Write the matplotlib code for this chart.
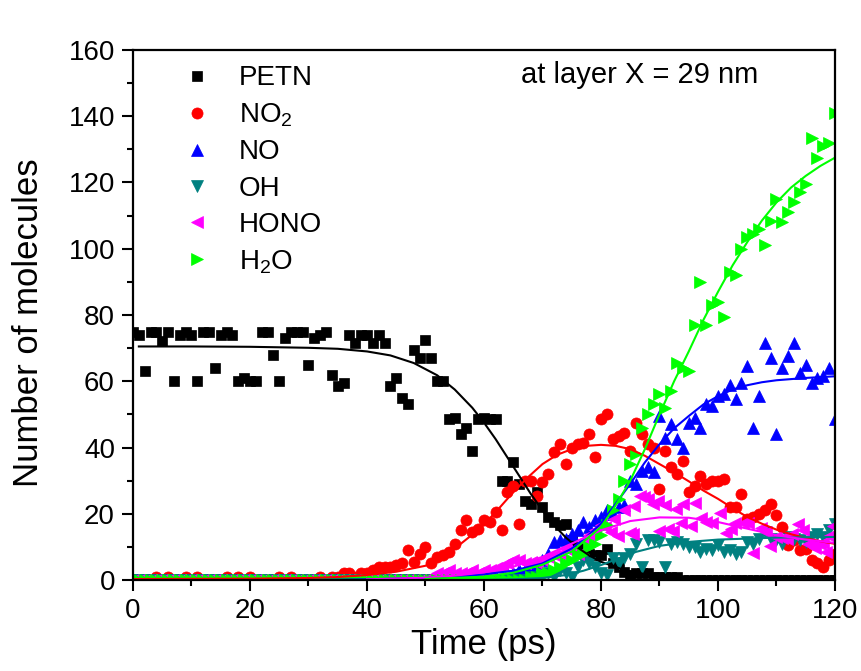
import matplotlib
matplotlib.use('Agg')
import matplotlib.pyplot as plt
from matplotlib.ticker import MultipleLocator

plt.rcParams['font.family'] = ['Liberation Sans', 'DejaVu Sans']
plt.rcParams['mathtext.default'] = 'regular'

# ---------------- data ----------------
petn_t = list(range(0, 121))
petn_v = [75, 74, 63, 75, 75, 72, 75, 60, 74, 75,
          74, 60, 75, 75, 64, 74, 75, 74, 60, 61,
          60, 60, 75, 75, 68, 60, 73, 75, 75, 75,
          65, 73, 74, 75, 62, 58.5, 59.5, 74, 71.5, 74,
          74, 71.5, 74, 71.5, 58.5, 61, 55, 53, 69.5, 67,
          72.5, 67, 60, 60, 48.5, 49, 44, 46, 39, 48.5,
          49, 48.5, 48.5, 30, 30, 35.5, 29, 24, 23, 26.5,
          22, 19, 17.5, 16.5, 17, 12, 9.5, 10, 8, 7.5,
          7.5, 9.5, 5, 4, 2.5, 1.5, 2, 2, 2, 1,
          1, 1, 1, 1, 0, 0, 0, 0, 0, 0,
          0, 0, 0, 0, 0, 0, 0, 0, 0, 0,
          0, 0, 0, 0, 0, 0, 0, 0, 0, 0, 0]

no2_t = list(range(0, 121))
no2_v = [0, 0, 0, 0, 1, 0, 1, 0, 0, 1,
         0, 1, 0, 0, 0, 0, 1, 0, 1, 0,
         1, 0, 0, 0, 0, 1, 0, 1, 0, 0,
         0, 0, 1, 0, 1, 1, 2, 2, 1, 2,
         2, 3, 4, 4, 4, 4.5, 5, 9, 5.5, 8,
         10, 5, 7, 7.5, 8.5, 11, 15, 18, 14.5, 15.5,
         18, 17.5, 20.5, 15, 26.5, 28.5, 17, 30, 30, 25.5,
         29.5, 32, 38.5, 41, 35, 40, 41, 41.5, 44, 37,
         48.5, 50, 42.5, 43.5, 44.5, 39, 47.5, 44, 41, 40,
         27.5, 39, 34, 32, 36, 26.5, 28.5, 31.5, 29, 30,
         30, 30.5, 22, 22, 26, 18.5, 19, 20, 21, 23,
         19.5, 16, 10.5, 12, 9, 9.5, 6, 5, 4, 6, 8]

no_t = list(range(0, 121))
no_v = [0] * 60 + [1, 0, 1, 1, 2, 2, 3, 3, 4, 5,
                   6, 8, 11.5, 12, 12.5, 14, 15, 17.5, 16, 18,
                   19, 21, 20, 22, 22.5, 30, 29, 33, 34, 32.5,
                   49.5, 43, 47, 42.5, 40, 47.5, 49, 46, 53, 52.5,
                   55.5, 56, 59, 54.5, 59.5, 64.5, 46, 55.5, 71.5, 67,
                   44, 64, 67.5, 71.5, 62.5, 65, 59.5, 61, 61.5, 64, 48.5]

oh_t = list(range(0, 121))
oh_v = [0] * 68 + [1, 0, 1, 2, 1, 3, 2, 1, 4, 6,
                   5, 4, 2, 1.5, 6.5, 5, 6.5, 8, 11, 4,
                   12, 12, 11.5, 4, 11, 11.5, 11, 10, 10, 8.5,
                   9.5, 9, 10.5, 8.5, 9, 8, 8.5, 11.5, 11, 12.5,
                   14.5, 12.5, 12, 11, 13, 12.5, 12, 11.5, 13, 14,
                   13, 15, 17]

hono_t = list(range(0, 81)) + [80.6, 81.7, 82.3, 82.9, 84, 84.9, 85.4, 85.7, 86.6, 87.3,
                               88, 88.9, 89.7, 90, 90.9, 91.4, 92.3, 92.9, 93.7, 94.1,
                               95.4, 96, 97.1, 98, 98.9, 100.3, 101.4, 102.2, 102.9, 104.3,
                               105.1, 106, 107.4, 108.2, 108.9, 110, 110.9, 111.8, 112.6, 113.7,
                               114.5, 115.3, 116.1, 116.6, 117.4, 118, 118.4, 118.9, 119.6]
hono_v = [0] * 51 + [1, 2, 2, 3, 2, 2, 2, 3, 2, 3,
                     3, 3.5, 4, 5, 6, 6, 5, 5.5, 5, 6,
                     7, 7.5, 8, 9.5, 9, 8, 12, 13.5, 15, 16.5,
                     16, 14.5, 18.3, 13.3, 21, 14.3, 13.8, 22.3, 25.5, 25,
                     24.5, 22.8, 24, 14.8, 22.5, 15.3, 14.8, 21.3, 17.3, 22.8,
                     16.3, 23.3, 18.8, 17.5, 17.3, 20.3, 14.3, 15.5, 17.3, 17.2,
                     17.3, 8.3, 15.8, 14.5, 10.3, 13, 12.8, 12.5, 14, 17,
                     15, 11, 10.6, 9.8, 11, 11.3, 8.6, 13.3, 16.2]

h2o_t = list(range(0, 121))
h2o_v = [0] * 68 + [1, 1, 2, 2, 3, 4, 5, 6, 7.5, 8,
                    10, 11, 13.5, 16.5, 21, 24.5, 30, 35, 38, 46,
                    50, 53, 56, 52, 57, 65.5, 64, 63, 77, 90,
                    77, 83, 84, 79.5, 93, 92, 100, 103.5, 104.5, 106,
                    101, 108.5, 115, 108, 111, 114, 117, 119.5, 133.5, 127.5,
                    131, 132, 141]

# fitted curves
petn_fit_t = [1, 10, 20, 30, 35, 40, 44, 48, 52, 55, 58, 60, 62, 64, 66, 68, 70, 72, 74, 76, 78, 80, 84, 88, 92, 100, 110, 120]
petn_fit_v = [70.5, 70.5, 70.4, 70.1, 69.8, 69.0, 67.8, 65.5, 61.8, 57.5, 52, 47.5, 42.5, 37, 31.5, 26, 21, 16.5, 12.8, 9.8, 7.4, 5.5, 3.0, 1.6, 0.9, 0.3, 0.1, 0]

no2_fit_t = [0, 20, 30, 35, 40, 45, 50, 52.5, 55, 57.5, 60, 62.5, 65, 67.5, 70, 72.5, 75, 77.5, 80, 82.5, 85,
             87.5, 90, 92.5, 95, 97.5, 100, 102.5, 105, 107.5, 110, 112.5, 115, 117.5, 120]
no2_fit_v = [0.3, 0.4, 0.6, 0.9, 1.5, 2.5, 4.3, 6.6, 9.5, 13, 16.7, 21.5, 26.5, 31, 35, 37.8, 39.5, 40.5, 40.8, 40.5, 39.5,
             37.5, 35, 32.5, 29.8, 27, 24.5, 21.7, 19, 17, 15.2, 13.8, 12.7, 11.7, 10.9]

no_fit_t = [30, 40, 50, 55, 60, 65, 70, 75, 77.5, 80, 82.5, 85, 87.5, 90, 92.5, 95, 97.5, 100, 102.5, 105, 107.5, 110, 115, 120]
no_fit_v = [0, 0.2, 0.6, 1.0, 1.7, 2.8, 5, 9.5, 13, 17, 23, 29, 35.5, 41, 45.8, 49.5, 53, 55.5, 57.5, 58.8, 59.7, 60.3, 61, 61.5]

oh_fit_t = [60, 65, 70, 74, 77, 80, 83, 86, 90, 95, 100, 110, 120]
oh_fit_v = [0, 0.2, 0.6, 1.5, 2.8, 4.5, 6.5, 8.5, 10.3, 11.5, 12.2, 12.8, 13]

hono_fit_t = [40, 50, 55, 60, 65, 70, 75, 80, 85, 90, 95, 100, 105, 110, 115, 120]
hono_fit_v = [0.2, 0.7, 1.3, 2.3, 4, 7, 11, 15, 17.8, 18.9, 18.8, 17.5, 15.5, 13.5, 12.2, 11.2]

h2o_fit_t = [50, 60, 65, 70, 75, 80, 82.5, 85, 87.5, 90, 92.5, 95, 97.5, 100, 102.5, 105, 107.5, 110, 112.5, 115, 117.5, 120]
h2o_fit_v = [0.3, 1, 2.2, 4.6, 8.6, 16, 22.5, 30, 39.5, 50, 60, 69, 78.5, 87, 95, 102, 108.5, 114, 118.5, 122, 125, 127.5]

labels = ['PETN', 'NO$_2$', 'NO', 'OH', 'HONO', 'H$_2$O']
colors = ['#000000', '#ff0000', '#0000ff', '#008080', '#ff00ff', '#00ff00']
markers = ['s', 'o', '^', 'v', '<', '>']
sizes = [7, 8, 8, 8, 8, 8]

data_t = [petn_t, no2_t, no_t, oh_t, hono_t, h2o_t]
data_v = [petn_v, no2_v, no_v, oh_v, hono_v, h2o_v]
fit_t = [petn_fit_t, no2_fit_t, no_fit_t, oh_fit_t, hono_fit_t, h2o_fit_t]
fit_v = [petn_fit_v, no2_fit_v, no_fit_v, oh_fit_v, hono_fit_v, h2o_fit_v]

# ---------------- figure ----------------
fig = plt.figure(figsize=(8.62, 6.71), dpi=100)
ax = fig.add_axes([133 / 862, 91 / 671, 702 / 862, 530 / 671])

for t, v, c, m, s, lab in zip(data_t, data_v, colors, markers, sizes, labels):
    ax.plot(t, v, linestyle='none', marker=m, color=c, markersize=s,
            markeredgecolor=c, markeredgewidth=0.5, label=lab)

for t, v, c in zip(fit_t, fit_v, colors):
    ax.plot(t, v, color=c, linewidth=1.5)

ax.set_xlim(0, 120)
ax.set_ylim(0, 160)
ax.xaxis.set_major_locator(MultipleLocator(20))
ax.xaxis.set_minor_locator(MultipleLocator(10))
ax.yaxis.set_major_locator(MultipleLocator(20))
ax.yaxis.set_minor_locator(MultipleLocator(10))
ax.tick_params(which='major', direction='out', length=8, width=1.5,
               labelsize=20, pad=5, top=False, right=False)
ax.tick_params(which='minor', direction='out', length=4.5, width=1.5,
               top=False, right=False)
for sp in ax.spines.values():
    sp.set_linewidth(1.6)

ax.set_xlabel('Time (ps)', fontsize=25, labelpad=3)
ax.set_ylabel('Number of molecules', fontsize=25)
ax.yaxis.set_label_coords(-0.125, 0.485)

ax.text(0.722, 0.952, 'at layer X = 29 nm', transform=ax.transAxes,
        fontsize=21, ha='center', va='center')

ax.legend(loc='upper left', bbox_to_anchor=(0.05, 1.0), frameon=False,
          fontsize=20, handlelength=1.0, handletextpad=1.0,
          labelspacing=0.37, borderaxespad=0.15, markerscale=1.0)

fig.savefig('out.png', dpi=100)
